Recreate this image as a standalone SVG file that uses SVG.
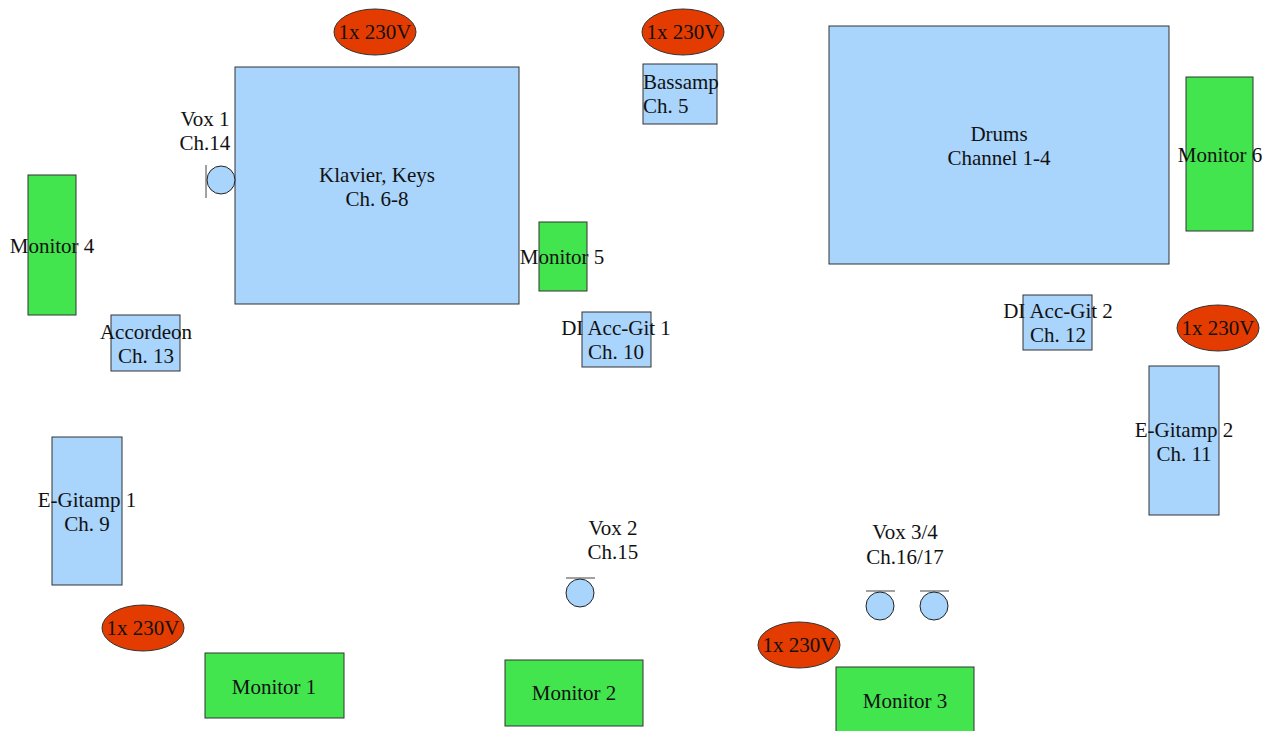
<svg xmlns="http://www.w3.org/2000/svg" width="1278" height="731" viewBox="0 0 1278 731">
<style>
text{font-family:"Liberation Serif","Times New Roman",serif;font-size:21px;fill:#111;text-anchor:middle}
.blue{fill:#a9d4fc;stroke:#333;stroke-width:1}
.green{fill:#43e54f;stroke:#333;stroke-width:1}
.red{fill:#e43c00;stroke:#333;stroke-width:1}
.mic{fill:#a9d4fc;stroke:#222;stroke-width:1}
.stand{stroke:#444;stroke-width:1;fill:none}
</style>
<rect width="1278" height="731" fill="#fff"/>
<g id="power1"><ellipse class="red" cx="375" cy="32" rx="41" ry="23"/><text x="375" y="39">1x 230V</text></g>
<g id="power2"><ellipse class="red" cx="683" cy="32" rx="41" ry="23"/><text x="683" y="39">1x 230V</text></g>
<g id="power3"><ellipse class="red" cx="1218" cy="328" rx="41" ry="23"/><text x="1218" y="335">1x 230V</text></g>
<g id="power4"><ellipse class="red" cx="143" cy="628" rx="41" ry="23"/><text x="143" y="635">1x 230V</text></g>
<g id="power5"><ellipse class="red" cx="799" cy="645" rx="41" ry="23"/><text x="799" y="652">1x 230V</text></g>
<g id="klavier"><rect class="blue" x="235" y="67" width="284" height="237"/><text x="377" y="182">Klavier, Keys</text><text x="377" y="206">Ch. 6-8</text></g>
<g id="vox1"><text x="205" y="126">Vox 1</text><text x="205" y="150">Ch.14</text><line class="stand" x1="206" y1="165" x2="206" y2="198"/><circle class="mic" cx="221" cy="180" r="14"/></g>
<g id="bassamp"><rect class="blue" x="643" y="64" width="74" height="60"/><text x="643" y="89" style="text-anchor:start">Bassamp</text><text x="643" y="113" style="text-anchor:start">Ch. 5</text></g>
<g id="monitor5"><rect class="green" x="539" y="222" width="48" height="69"/><text x="562" y="264">Monitor 5</text></g>
<g id="diaccgit1"><rect class="blue" x="582" y="312" width="69" height="55"/><text x="616" y="335">DI Acc-Git 1</text><text x="616" y="359">Ch. 10</text></g>
<g id="drums"><rect class="blue" x="829" y="26" width="340" height="238"/><text x="999" y="141">Drums</text><text x="999" y="165">Channel 1-4</text></g>
<g id="monitor6"><rect class="green" x="1186" y="77" width="67" height="154"/><text x="1220" y="162">Monitor 6</text></g>
<g id="diaccgit2"><rect class="blue" x="1023" y="295" width="69" height="55"/><text x="1058" y="318">DI Acc-Git 2</text><text x="1058" y="342">Ch. 12</text></g>
<g id="egitamp2"><rect class="blue" x="1149" y="366" width="70" height="149"/><text x="1184" y="437">E-Gitamp 2</text><text x="1184" y="461">Ch. 11</text></g>
<g id="monitor4"><rect class="green" x="28" y="175" width="48" height="140"/><text x="52" y="253">Monitor 4</text></g>
<g id="accordeon"><rect class="blue" x="111" y="315" width="69" height="56"/><text x="146" y="339">Accordeon</text><text x="146" y="363">Ch. 13</text></g>
<g id="egitamp1"><rect class="blue" x="52" y="437" width="70" height="148"/><text x="87" y="507">E-Gitamp 1</text><text x="87" y="531">Ch. 9</text></g>
<g id="monitor1"><rect class="green" x="205" y="653" width="139" height="65"/><text x="274" y="694">Monitor 1</text></g>
<g id="vox2"><text x="613" y="535">Vox 2</text><text x="613" y="559">Ch.15</text><line class="stand" x1="566" y1="578" x2="595" y2="578"/><circle class="mic" cx="580" cy="593" r="14"/></g>
<g id="monitor2"><rect class="green" x="505" y="660" width="138" height="66"/><text x="574" y="700">Monitor 2</text></g>
<g id="vox34"><text x="905" y="539">Vox 3/4</text><text x="905" y="564">Ch.16/17</text><line class="stand" x1="866" y1="591" x2="895" y2="591"/><circle class="mic" cx="880" cy="606" r="14"/><line class="stand" x1="920" y1="591" x2="949" y2="591"/><circle class="mic" cx="934" cy="606" r="14"/></g>
<g id="monitor3"><rect class="green" x="836" y="667" width="138" height="70"/><text x="905" y="708">Monitor 3</text></g>
<g id="connectors"></g>
</svg>
